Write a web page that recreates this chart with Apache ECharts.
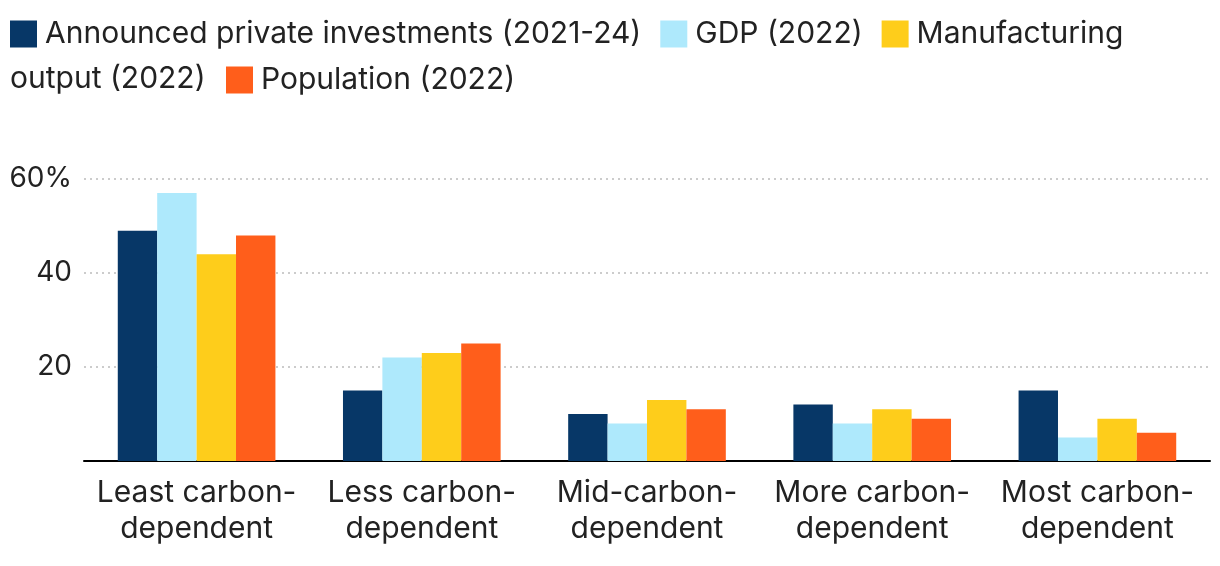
<!DOCTYPE html>
<html>
<head>
<meta charset="utf-8">
<script src="https://cdn.jsdelivr.net/npm/echarts@6/dist/echarts.min.js"></script>
<style>
html,body{margin:0;padding:0;background:#fff;}
#chart{width:1220px;height:566px;}
</style>
</head>
<body>
<div id="chart"></div>
<script>
const categories = ['Least carbon-\ndependent', 'Less carbon-\ndependent', 'Mid-carbon-\ndependent', 'More carbon-\ndependent', 'Most carbon-\ndependent'];
const seriesNames = ['Announced private investments (2021-24)', 'GDP (2022)', 'Manufacturing output (2022)', 'Population (2022)'];
const investments = [49, 15, 10, 12, 15];
const gdp = [57, 22, 8, 8, 5];
const manufacturing = [44, 23, 13, 11, 9];
const population = [48, 25, 11, 9, 6];
const yTicks = [0, 20, 40, 60];
const colors = ['#073767', '#aee9fc', '#fecd1b', '#ff5e1b'];

const font = 'Inter, "Noto Sans", sans-serif';
const fs = 30;
const textColor = '#222222';
const chart = echarts.init(document.getElementById('chart'), null, {renderer: 'canvas'});
const values = [investments, gdp, manufacturing, population];

chart.setOption({
  animation: false,
  textStyle: {fontFamily: font},
  legend: [
    {
      data: seriesNames.slice(0, 3),
      left: 10, top: 19,
      itemWidth: 27, itemHeight: 27, itemGap: 19,
      icon: 'rect',
      padding: 0,
      textStyle: {fontFamily: font, fontSize: fs, color: textColor, padding: [0, 0, 0, 3]},
      formatter: n => n === 'Manufacturing output (2022)' ? 'Manufacturing' : n,
      selectedMode: false
    },
    {
      data: [seriesNames[3]],
      left: 226, top: 65,
      itemWidth: 27, itemHeight: 27,
      icon: 'rect',
      padding: 0,
      textStyle: {fontFamily: font, fontSize: fs, color: textColor, padding: [0, 0, 0, 3]},
      selectedMode: false
    }
  ],
  graphic: [{
    type: 'text', left: 10, top: 64,
    style: {text: 'output (2022)', font: fs + 'px ' + font, fill: textColor}
  }],
  grid: {left: 84, right: 10, top: 179, bottom: 105, containLabel: false},
  xAxis: {
    type: 'category',
    data: categories,
    axisLine: {lineStyle: {color: '#000', width: 2}},
    axisTick: {show: false},
    axisLabel: {fontFamily: font, fontSize: fs, color: textColor, lineHeight: 36, margin: 14, interval: 0}
  },
  yAxis: {
    type: 'value', min: yTicks[0], max: yTicks[yTicks.length - 1], interval: 20,
    axisLine: {show: false}, axisTick: {show: false},
    axisLabel: {
      fontFamily: font, fontSize: 28, color: textColor, margin: 12,
      formatter: v => v === 0 ? '' : (v === yTicks[yTicks.length - 1] ? v + '%' : String(v))
    },
    splitLine: {lineStyle: {color: '#cccccc', type: [2, 4], width: 2}}
  },
  series: seriesNames.map((n, i) => ({
    name: n, type: 'bar', data: values[i],
    itemStyle: {color: colors[i]},
    barGap: 0, barCategoryGap: '30%'
  }))
});
</script>
</body>
</html>
